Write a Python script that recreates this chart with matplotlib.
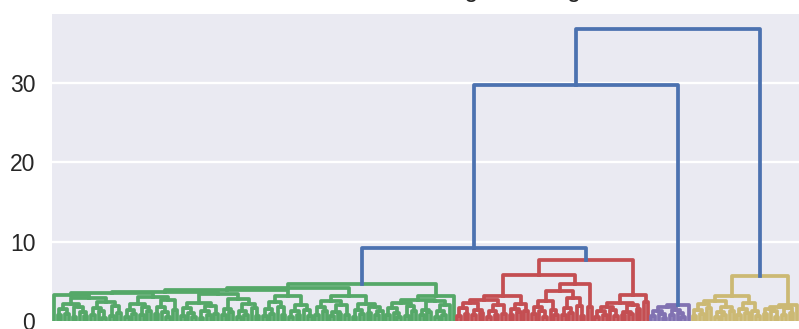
import matplotlib.pyplot as plt

# merge trees: (height, left, right), a bare 0 is a single customer
green_tree = (4.6,
    (4.2,
        (3.9,
            (3.7,
                (3.5,
                    (3.3, 0,
                        (2.9,
                            (2.1, (1.5, (0.7, 0, 0), (0.9, 0, 0)), (1.7, (0.5, 0, 0), (1.1, 0, (0.6, 0, 0)))),
                            (2.4, (1.6, (0.8, 0, 0), (1.2, 0, (0.4, 0, 0))), (1.9, (0.6, 0, 0), (1.0, 0, 0))))),
                    (3.0,
                        (2.2, (1.4, (0.5, 0, 0), (0.9, 0, 0)), (1.8, (0.7, 0, 0), (1.3, 0, 0))),
                        (2.6, (1.7, (0.9, 0, 0), (1.1, 0, (0.5, 0, 0))), (1.4, 0, 0)))),
                (3.4,
                    (2.3, (1.6, (0.6, 0, 0), (1.0, 0, (0.5, 0, 0))), (1.9, (1.2, (0.4, 0, 0), (0.7, 0, 0)), (0.9, 0, 0))),
                    (2.8, (1.5, (0.7, 0, 0), (1.1, 0, 0)), (2.1, (1.3, (0.5, 0, 0), (0.8, 0, 0)), (1.6, 0, (0.6, 0, 0)))))),
            (3.1,
                (2.4, (1.5, (0.6, 0, 0), (0.9, 0, 0)), (1.8, 0, (0.7, 0, 0))),
                (2.0, (1.2, (0.5, 0, 0), (0.8, 0, 0)), (1.4, 0, (0.6, 0, 0))))),
        (3.2,
            (2.5, (1.7, (0.8, 0, 0), (1.2, 0, 0)), (2.0, (1.1, (0.6, 0, 0), (0.9, 0, 0)), (0.7, 0, 0))),
            (2.2, (1.4, (0.5, 0, 0), (0.9, 0, 0)), (1.8, (1.0, 0, 0), (1.3, (0.7, 0, 0), 0))))),
    (3.2,
        (2.7,
            (2.3, (1.6, (0.7, 0, 0), (1.0, 0, (0.5, 0, 0))), (1.9, (0.6, 0, 0), (1.2, 0, 0))),
            (2.5, (1.4, (0.8, 0, 0), (1.1, 0, 0)), (2.0, (1.3, (0.5, 0, 0), (0.8, 0, 0)), 0))),
        0))

red_tree = (7.7,
    (5.8,
        (3.2,
            (2.6,
                (2.3, (1.6, (0.6, 0, 0), (0.9, 0, 0)), (1.4, (0.7, 0, 0), (1.0, 0, 0))),
                (2.0, (1.2, (0.5, 0, 0), (0.8, 0, 0)), (0.9, 0, 0))),
            (2.2, (1.5, (0.7, 0, 0), (1.1, 0, 0)), (1.3, 0, 0))),
        (4.7,
            (3.8,
                (2.5, (1.8, (0.9, 0, 0), (1.2, 0, (0.5, 0, 0))), (1.4, 0, (0.7, 0, 0))),
                (2.9, (1.6, (0.8, 0, 0), (1.0, 0, 0)), (1.9, 0, (0.6, 0, 0)))),
            (1.7, 0, 0))),
    (3.3,
        (2.3,
            (1.8, (1.2, (0.5, 0, 0), (0.8, 0, 0)), (1.4, 0, (0.6, 0, 0))),
            (2.0, (1.1, (0.7, 0, 0), (0.9, 0, 0)), (1.5, 0, 0))),
        (2.4, 0, 0)))

purple_tree = (2.0,
    (1.7, (1.2, (0.6, 0, 0), (0.9, 0, (0.4, 0, 0))), (1.4, (0.7, 0, 0), (1.0, 0, (0.5, 0, 0)))),
    0)

yellow_tree = (5.7,
    (3.2,
        (2.5,
            (2.1, (1.4, (0.6, 0, 0), (0.9, 0, 0)), (1.6, 0, 0)),
            (1.8, (1.1, (0.5, 0, 0), (0.8, 0, 0)), (1.2, 0, 0))),
        (2.3, (1.5, (0.7, 0, 0), (1.0, 0, 0)), (1.3, 0, (0.6, 0, 0)))),
    (2.0,
        (1.8, (1.5, (0.9, 0, 0), (1.2, 0, (0.5, 0, 0))), (1.6, (0.7, 0, 0), (1.0, 0, 0))),
        0))

cluster_trees = [green_tree, red_tree, purple_tree, yellow_tree]
cluster_colors = ['#55A868', '#C44E52', '#8172B2', '#CCB974']
link_heights = [9.2, 29.7, 36.8]   # green+red, then purple, then yellow
link_color = '#4C72B0'

LW = 2.7

fig = plt.figure(figsize=(7.99, 3.29), dpi=100)
ax = fig.add_axes([52 / 799, 8 / 329, 747 / 799, 307 / 329])
ax.set_facecolor('#EAEAF2')
for s in ax.spines.values():
    s.set_visible(False)


def draw(node, color, start):
    # returns (x, height, leaf count) of the node, drawing its links
    if not isinstance(node, tuple):
        return 5 + 10 * start, 0.0, 1
    h, left, right = node
    xl, hl, nl = draw(left, color, start)
    xr, hr, nr = draw(right, color, start + nl)
    ax.plot([xl, xl, xr, xr], [hl, h, h, hr], color=color, lw=LW, zorder=3)
    return (xl + xr) / 2, h, nl + nr


start = 0
joined = None
for k, (tree, col) in enumerate(zip(cluster_trees, cluster_colors)):
    x, h, n = draw(tree, col, start)
    start += n
    if joined is None:
        joined = (x, h)
    else:
        hj = link_heights[k - 1]
        ax.plot([joined[0], joined[0], x, x], [joined[1], hj, hj, h],
                color=link_color, lw=LW, zorder=3)
        joined = ((joined[0] + x) / 2, hj)

n_leaves = start
ax.set_xlim(0, 10 * n_leaves)
ax.set_ylim(0, max(link_heights) * 1.05)

ax.set_yticks([0, 10, 20, 30])
ax.set_xticks([])
ax.grid(axis='y', color='white', lw=1.65)
ax.set_axisbelow(True)
ax.tick_params(axis='y', length=0, pad=12, labelsize=16.5, labelcolor='#262626')
for t in ax.get_yticklabels():
    t.set_fontfamily('Liberation Sans')

# title sits mostly above the saved area, only its descenders show
ax.set_title('Hierarchical Clustering Dendrogram', fontsize=18, pad=12.3,
             color='#262626', fontfamily='Liberation Sans')

plt.savefig('out.png', dpi=100)
